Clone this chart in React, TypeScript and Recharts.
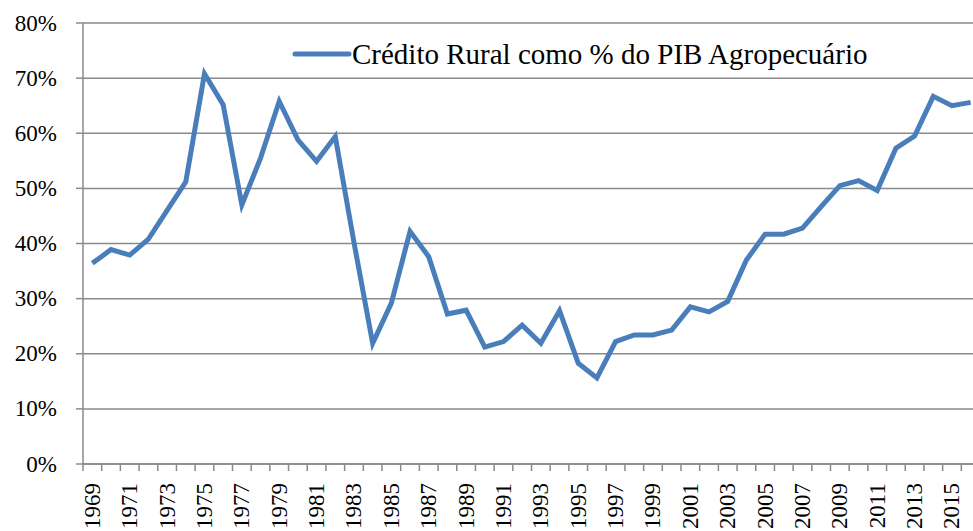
import { LineChart, Line, XAxis, YAxis, CartesianGrid } from 'recharts';

const years = [
  '1969', '1970', '1971', '1972', '1973', '1974', '1975', '1976', '1977', '1978',
  '1979', '1980', '1981', '1982', '1983', '1984', '1985', '1986', '1987', '1988',
  '1989', '1990', '1991', '1992', '1993', '1994', '1995', '1996', '1997', '1998',
  '1999', '2000', '2001', '2002', '2003', '2004', '2005', '2006', '2007', '2008',
  '2009', '2010', '2011', '2012', '2013', '2014', '2015', '2016',
];

// Crédito Rural como % do PIB Agropecuário
const creditoPct = [
  36.4, 38.9, 37.9, 40.8, 46.0, 51.2, 70.8, 65.2, 47.0, 55.5,
  65.8, 58.8, 54.9, 59.4, 40.2, 21.9, 29.2, 42.2, 37.6, 27.2,
  27.9, 21.2, 22.2, 25.2, 21.9, 27.8, 18.3, 15.6, 22.2, 23.4,
  23.4, 24.3, 28.5, 27.6, 29.5, 37.0, 41.7, 41.7, 42.8, 46.7,
  50.5, 51.4, 49.6, 57.3, 59.5, 66.7, 65.0, 65.6,
];

const yTicks = [0, 10, 20, 30, 40, 50, 60, 70, 80];

const seriesName = 'Crédito Rural como % do PIB Agropecuário';

const data = years.map((y, i) => ({ year: y, value: creditoPct[i] }));

const FONT = "'Liberation Serif', 'Times New Roman', serif";
const GRID = '#8a8a8a';
const BLUE = '#4a7ebb';

const CHART_W = 1000;
const CHART_H = 560;
const LEFT = 83;
const RIGHT_MARGIN = 20;
const BAND = (CHART_W - LEFT - RIGHT_MARGIN) / years.length;

function YearTick(props: any) {
  const { x, y, payload, index } = props;
  const half = BAND / 2;
  const ty = y + 19;
  return (
    <g>
      <line x1={x - half} x2={x - half} y1={y} y2={y + 7} stroke={GRID} strokeWidth={1.5} />
      {index % 2 === 0 && (
        <text
          x={x}
          y={ty}
          transform={`rotate(-90 ${x} ${ty})`}
          textAnchor="end"
          dominantBaseline="central"
          style={{ fontFamily: FONT, fontSize: 23 }}
          fill="#000"
        >
          {payload.value}
        </text>
      )}
    </g>
  );
}

function PctTick(props: any) {
  const { x, y, payload } = props;
  return (
    <text x={x} y={y} textAnchor="end" dominantBaseline="central" style={{ fontFamily: FONT, fontSize: 23 }} fill="#000">
      {`${payload.value}%`}
    </text>
  );
}

function LegendBox() {
  return (
    <div
      style={{
        position: 'absolute',
        left: 292,
        top: 37,
        display: 'flex',
        alignItems: 'center',
        height: 34,
        fontFamily: FONT,
        fontSize: 29,
        lineHeight: '34px',
        color: '#000',
      }}
    >
      <svg width={60} height={10}>
        <line x1={3} x2={57} y1={5} y2={5} stroke={BLUE} strokeWidth={5} strokeLinecap="round" />
      </svg>
      <span style={{ whiteSpace: 'nowrap' }}>{seriesName}</span>
    </div>
  );
}

export default function App() {
  return (
    <div style={{ position: 'absolute', left: 0, top: 0, width: 973, height: 531, overflow: 'hidden', background: '#fff' }}>
      <LineChart width={CHART_W} height={CHART_H} data={data} margin={{ top: 23, right: RIGHT_MARGIN, left: 0, bottom: 0 }}>
        <CartesianGrid vertical={false} stroke={GRID} strokeWidth={1.5} />
        <XAxis
          dataKey="year"
          scale="band"
          interval={0}
          height={CHART_H - 464}
          tickSize={0}
          tickMargin={0}
          tickLine={false}
          axisLine={{ stroke: GRID, strokeWidth: 1.5 }}
          tick={<YearTick />}
        />
        <YAxis
          width={LEFT}
          domain={[0, 80]}
          ticks={yTicks}
          interval={0}
          tickSize={7}
          tickMargin={19}
          tickLine={{ stroke: GRID, strokeWidth: 1.5 }}
          axisLine={{ stroke: GRID, strokeWidth: 1.5 }}
          tick={<PctTick />}
        />
        <Line
          type="linear"
          dataKey="value"
          name={seriesName}
          stroke={BLUE}
          strokeWidth={5}
          dot={false}
          isAnimationActive={false}
        />
      </LineChart>
      <LegendBox />
    </div>
  );
}
